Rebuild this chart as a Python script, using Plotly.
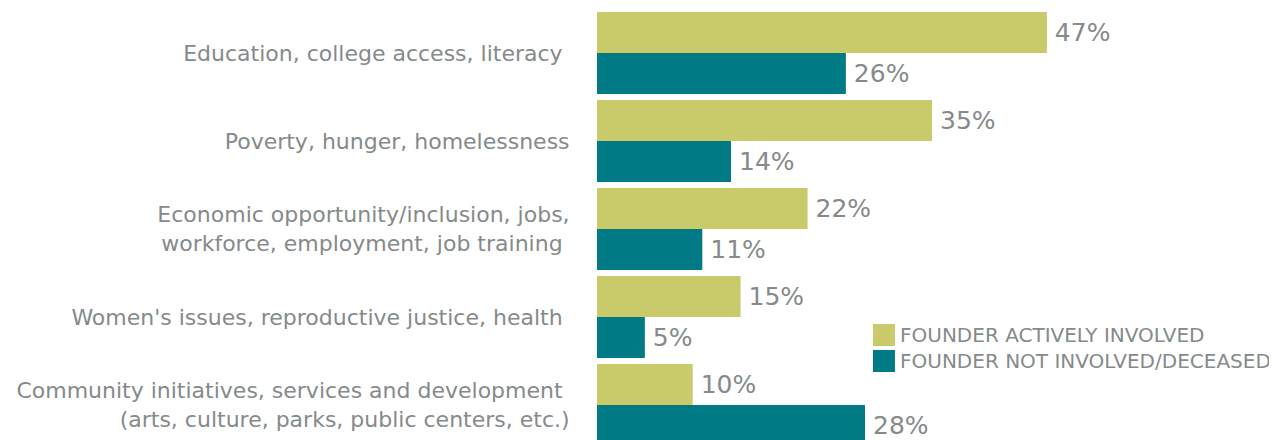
import plotly.graph_objects as go

categories = [
    "Education, college access, literacy ",
    "Poverty, hunger, homelessness",
    "Economic opportunity/inclusion, jobs,<br>workforce, employment, job training ",
    "Women's issues, reproductive justice, health ",
    "Community initiatives, services and development <br>(arts, culture, parks, public centers, etc.)",
]
series_names = ["FOUNDER ACTIVELY INVOLVED", "FOUNDER NOT INVOLVED/DECEASED"]
active_values = [47, 35, 22, 15, 10]
not_involved_values = [26, 14, 11, 5, 28]
colors = ["#C9CA6A", "#007A84"]

label_color = "#858A8A"
font_family = "DejaVu Sans, sans-serif"

fig = go.Figure()
for name, vals, col in zip(series_names, [active_values, not_involved_values], colors):
    fig.add_trace(go.Bar(
        y=categories, x=vals, name=name, orientation="h",
        marker=dict(color=col, line=dict(width=0)),
        text=[f"\u2009{v}%" for v in vals], textposition="outside",
        textfont=dict(size=25, color=label_color, family=font_family),
        cliponaxis=False, showlegend=False,
    ))

# legend drawn as swatches + labels in paper coordinates
legend_x0, legend_w = 0.4119, 0.0328
legend_tops = [0.2691, 0.2088]
legend_h = 0.0510
for name, col, top in zip(series_names, colors, legend_tops):
    fig.add_shape(type="rect", xref="paper", yref="paper",
                  x0=legend_x0, x1=legend_x0 + legend_w, y0=top - legend_h, y1=top,
                  fillcolor=col, line=dict(width=0))
    fig.add_annotation(xref="paper", yref="paper", x=legend_x0 + legend_w + 0.004,
                       y=top - legend_h / 2, text=name, showarrow=False,
                       xanchor="left", yanchor="middle",
                       font=dict(size=20, color=label_color, family=font_family))

fig.update_layout(
    width=1277, height=440,
    margin=dict(l=589, r=18, t=1, b=8, autoexpand=False),
    paper_bgcolor="white", plot_bgcolor="white",
    barmode="group", bargap=0.068, bargroupgap=0,
    font=dict(family=font_family, color=label_color),
    showlegend=False,
    xaxis=dict(range=[0, 70], showgrid=False, zeroline=False, showticklabels=False,
               showline=False, ticks=""),
    yaxis=dict(range=[4.398, -0.5], type="category", showgrid=False, zeroline=False,
               showline=False, ticks="outside", ticklen=22, tickcolor="rgba(0,0,0,0)",
               tickfont=dict(size=22, color=label_color, family=font_family)),
)

fig.write_html("out.html")
